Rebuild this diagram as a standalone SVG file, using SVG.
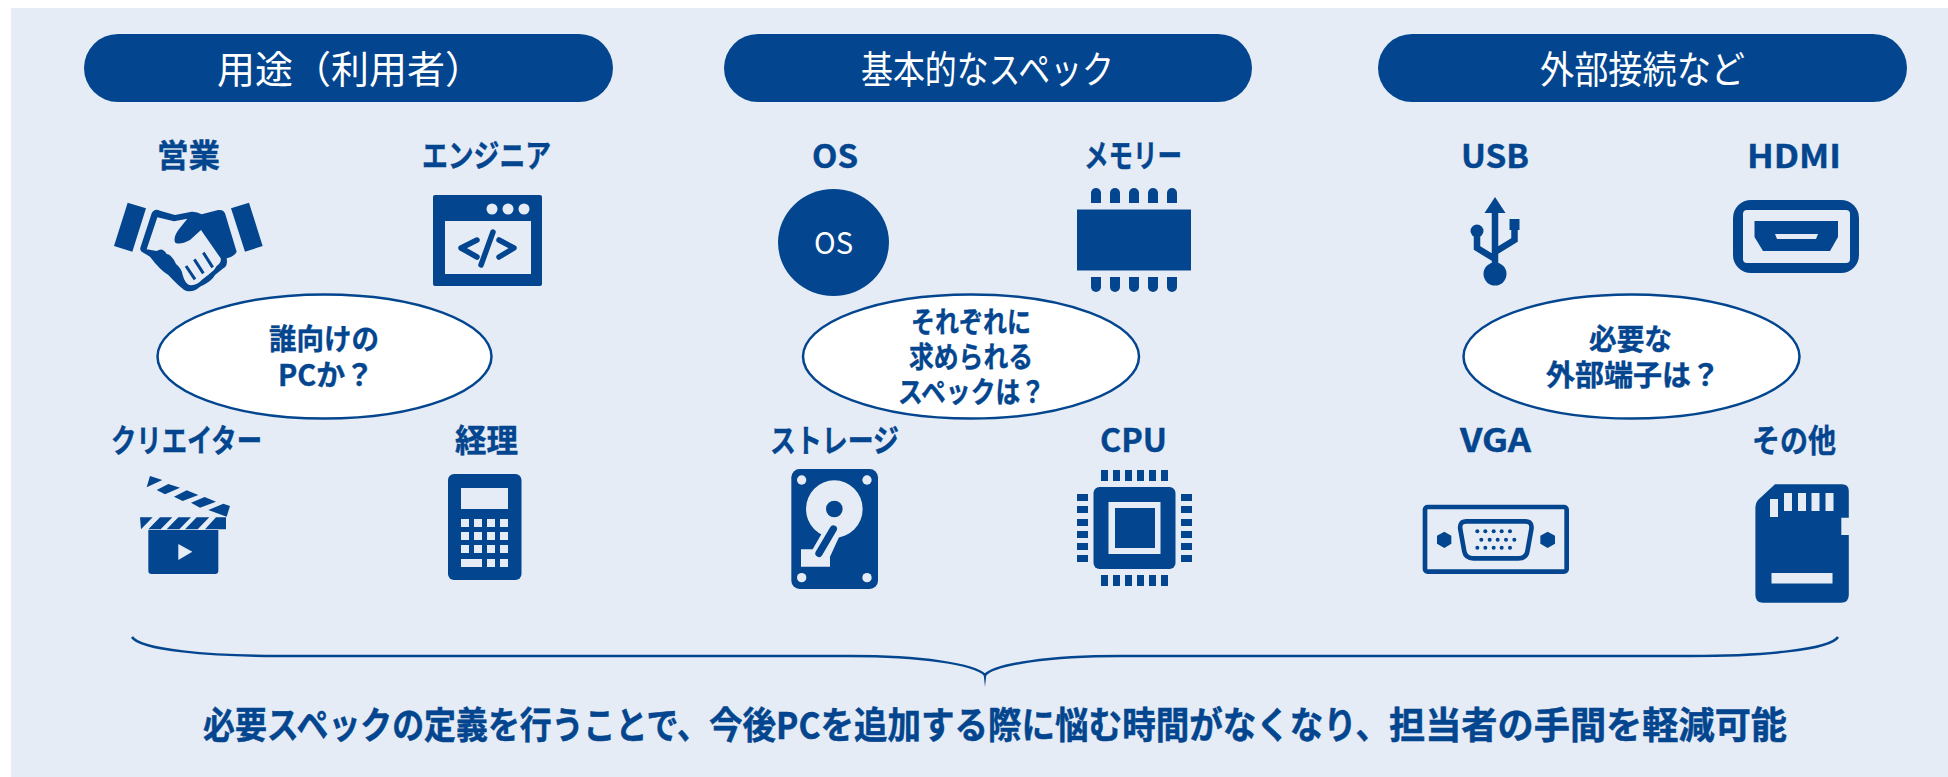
<svg xmlns="http://www.w3.org/2000/svg" width="1948" height="777" viewBox="0 0 1948 777">
<style>
text{font-family:"Noto Sans CJK JP","Noto Sans",sans-serif;fill:#03468F}
.h{font-size:38px;fill:#fff}
.l{font-size:32px;font-weight:700;stroke:#03468F;stroke-width:.4}
.e{font-size:29px;font-weight:700;stroke:#03468F;stroke-width:.4}
.b{font-size:37px;font-weight:700;stroke:#03468F;stroke-width:.5}
.d{fill:#03468F}
.w{fill:#E6ECF5}
.pill{fill:#03468F}
.oval{fill:#fff;stroke:#03468F;stroke-width:2.5}
</style>
<defs>
<path id="pin" class="d" d="M-5,15V5a5,5 0 0 1 10,0V15Z"/>
</defs>
<rect x="0" y="0" width="1948" height="777" fill="#fff"/>
<rect class="w" x="11" y="8" width="1937" height="769"/>

<g id="header-use"><rect class="pill" x="84" y="34" width="529" height="68" rx="34"/><text class="h" x="217" y="83">用途（利用者）</text></g>
<g id="header-spec"><rect class="pill" x="724" y="34" width="528" height="68" rx="34"/><text class="h" x="861" y="83" textLength="253" lengthAdjust="spacingAndGlyphs">基本的なスペック</text></g>
<g id="header-ext"><rect class="pill" x="1378" y="34" width="529" height="68" rx="34"/><text class="h" x="1540" y="83" textLength="205" lengthAdjust="spacingAndGlyphs">外部接続など</text></g>

<g id="sales">
<text class="l" x="157" y="167" textLength="63" lengthAdjust="spacingAndGlyphs">営業</text>
<g transform="translate(100 180) scale(.33333)">
<path class="d" d="M83,68L138,85L97,215L42,198ZM393,85L447,68L488,198L435,215Z"/>
<path class="d" d="M165,90Q172,88 180,92L225,105L275,95Q290,94 305,103L355,90Q370,88 375,100L410,215Q405,228 380,235Q384,258 370,265L345,285Q335,305 300,320Q280,338 258,332Q245,328 205,285Q180,270 150,230L125,215Q118,210 122,200L155,100Q158,92 165,90Z"/>
<path class="w" d="M172,112L222,124L262,116L235,150Q218,175 226,188Q240,196 270,180L303,150L362,235Q365,248 350,258L342,270Q325,285 305,300Q290,318 268,315Q255,310 248,285Q245,265 228,252L222,240Q210,222 200,222Q188,200 170,213L140,208Z"/>
<path d="M258,258L285,298M283,238L310,280M310,218L338,262" fill="none" stroke="#03468F" stroke-width="9"/>
</g>
</g>

<g id="engineer">
<text class="l" x="422" y="167" textLength="129" lengthAdjust="spacingAndGlyphs">エンジニア</text>
<rect class="d" x="433" y="195" width="109" height="91" rx="2"/>
<rect class="w" x="445" y="221" width="86" height="53"/>
<circle class="w" cx="492" cy="209" r="5.5"/><circle class="w" cx="508" cy="209" r="5.5"/><circle class="w" cx="524" cy="209" r="5.5"/>
<path d="M477,240L461,248L477,257M499,240L514,248L499,257M493,232L481,265" fill="none" stroke="#03468F" stroke-width="5.5" stroke-linecap="round" stroke-linejoin="round"/>
</g>

<g id="creator">
<text class="l" x="111" y="452" textLength="151" lengthAdjust="spacingAndGlyphs">クリエイター</text>
<g transform="translate(130 465) scale(.33333)">
<path class="d" d="M55,195H265V317Q265,327 255,327H65Q55,327 55,317Z"/>
<path class="w" d="M145,237L187,260L145,285Z"/>
<path class="d" d="M30,157H68L33,193ZM90,157H127L92,193H55ZM145,157H183L148,193H110ZM200,157H238L203,193H165ZM258,157H288V193H225Z"/>
<path class="d" d="M60,33L97,45L50,67ZM115,57L150,68L105,88L80,75ZM170,76L205,90L158,108L132,95ZM224,96L258,110L210,128L183,113ZM280,116L300,123L290,155L235,135Z"/>
</g>
</g>

<g id="accounting">
<text class="l" x="455" y="452" textLength="63" lengthAdjust="spacingAndGlyphs">経理</text>
<rect class="d" x="448" y="474" width="73.500" height="106" rx="6"/>
<rect class="w" x="461" y="488" width="47" height="21"/>
<g class="w">
<rect x="461" y="519" width="8" height="8"/><rect x="474" y="519" width="8" height="8"/><rect x="487" y="519" width="8" height="8"/><rect x="500" y="519" width="8" height="8"/>
<rect x="461" y="532" width="8" height="8"/><rect x="474" y="532" width="8" height="8"/><rect x="487" y="532" width="8" height="8"/><rect x="500" y="532" width="8" height="8"/>
<rect x="461" y="545" width="8" height="8"/><rect x="474" y="545" width="8" height="8"/><rect x="487" y="545" width="8" height="8"/><rect x="500" y="545" width="8" height="8"/>
<rect x="461" y="559" width="21" height="8"/><rect x="487" y="559" width="8" height="8"/><rect x="500" y="559" width="8" height="8"/>
</g>
</g>

<g id="os">
<text class="l" x="812" y="168" textLength="46" lengthAdjust="spacingAndGlyphs">OS</text>
<ellipse class="d" cx="833.500" cy="242.500" rx="55.500" ry="53.500"/>
<text x="814" y="254" font-size="30" style="fill:#fff" textLength="39" lengthAdjust="spacingAndGlyphs">OS</text>
</g>

<g id="memory">
<text class="l" x="1084" y="167" textLength="98" lengthAdjust="spacingAndGlyphs">メモリー</text>
<rect class="d" x="1077" y="209.500" width="114" height="61"/>
<use href="#pin" x="1096" y="188"/><use href="#pin" x="1115" y="188"/><use href="#pin" x="1134" y="188"/><use href="#pin" x="1153" y="188"/><use href="#pin" x="1172" y="188"/>
<use href="#pin" transform="translate(1096 292) scale(1 -1)"/><use href="#pin" transform="translate(1115 292) scale(1 -1)"/><use href="#pin" transform="translate(1134 292) scale(1 -1)"/><use href="#pin" transform="translate(1153 292) scale(1 -1)"/><use href="#pin" transform="translate(1172 292) scale(1 -1)"/>
</g>

<g id="storage">
<text class="l" x="770" y="452" textLength="129" lengthAdjust="spacingAndGlyphs">ストレージ</text>
<g transform="translate(780 460) scale(.33333)">
<rect class="d" x="34" y="27" width="260" height="360" rx="25"/>
<circle class="w" cx="65" cy="60" r="14"/><circle class="w" cx="261" cy="60" r="14"/><circle class="w" cx="65" cy="353" r="14"/><circle class="w" cx="261" cy="353" r="14"/>
<ellipse class="w" cx="163" cy="147" rx="85" ry="86"/>
<circle class="d" cx="163" cy="147" r="25"/>
<path class="w" d="M63,268H98L140,195L180,225L150,290V320H63Z"/>
<path d="M160,207L117,280" fill="none" stroke="#03468F" stroke-width="22" stroke-linecap="round"/>
</g>
</g>

<g id="cpu">
<text class="l" x="1100" y="452" textLength="67" lengthAdjust="spacingAndGlyphs">CPU</text>
<rect class="d" x="1093.500" y="487" width="82" height="82" rx="6"/>
<rect class="w" x="1108.500" y="502" width="52" height="52"/>
<rect class="d" x="1115" y="508" width="40" height="40"/>
<g class="d">
<rect x="1101" y="470" width="7" height="11"/><rect x="1113" y="470" width="7" height="11"/><rect x="1125" y="470" width="7" height="11"/><rect x="1137" y="470" width="7" height="11"/><rect x="1149" y="470" width="7" height="11"/><rect x="1161" y="470" width="7" height="11"/>
<rect x="1101" y="575" width="7" height="11"/><rect x="1113" y="575" width="7" height="11"/><rect x="1125" y="575" width="7" height="11"/><rect x="1137" y="575" width="7" height="11"/><rect x="1149" y="575" width="7" height="11"/><rect x="1161" y="575" width="7" height="11"/>
<rect x="1077" y="494" width="11" height="7"/><rect x="1077" y="506" width="11" height="7"/><rect x="1077" y="519" width="11" height="7"/><rect x="1077" y="531" width="11" height="7"/><rect x="1077" y="543" width="11" height="7"/><rect x="1077" y="555" width="11" height="7"/>
<rect x="1181" y="494" width="11" height="7"/><rect x="1181" y="506" width="11" height="7"/><rect x="1181" y="519" width="11" height="7"/><rect x="1181" y="531" width="11" height="7"/><rect x="1181" y="543" width="11" height="7"/><rect x="1181" y="555" width="11" height="7"/>
</g>
</g>

<g id="usb">
<text class="l" x="1461" y="168" textLength="68" lengthAdjust="spacingAndGlyphs">USB</text>
<path class="d" d="M1495,197L1505.500,213H1484.500Z"/>
<circle class="d" cx="1495" cy="274" r="11.500"/>
<circle class="d" cx="1477" cy="231" r="6.500"/>
<rect class="d" x="1509.500" y="219" width="10" height="11"/>
<path d="M1495,210V270M1477,232V248L1495,259M1514.500,228V240L1495,252" fill="none" stroke="#03468F" stroke-width="6.500"/>
</g>

<g id="hdmi">
<text class="l" x="1747" y="168" textLength="94" lengthAdjust="spacingAndGlyphs">HDMI</text>
<rect class="d" x="1733" y="200" width="126" height="73" rx="18"/>
<rect class="w" x="1743" y="210" width="107" height="53" rx="4"/>
<path class="d" d="M1754.500,221H1838V237L1830,251H1763L1754.500,237Z"/>
<path class="w" d="M1775,234H1818L1816,239H1777Z"/>
</g>

<g id="vga">
<text class="l" x="1460" y="452" textLength="71" lengthAdjust="spacingAndGlyphs">VGA</text>
<g transform="translate(1410 490) scale(.33333)">
<rect x="45" y="51" width="425" height="194" rx="8" fill="none" stroke="#03468F" stroke-width="14"/>
<path d="M170,94H345Q368,94 364,118L352,185Q348,205 325,205H190Q167,205 163,185L151,118Q147,94 170,94Z" fill="none" stroke="#03468F" stroke-width="14"/>
<path class="d" d="M103,125L124,137V161L103,174L81,161V137ZM413,125L435,137V161L413,174L391,161V137Z"/>
<g class="d">
<circle cx="202" cy="124" r="6"/><circle cx="226" cy="124" r="6"/><circle cx="251" cy="124" r="6"/><circle cx="275" cy="124" r="6"/><circle cx="300" cy="124" r="6"/>
<circle cx="214" cy="149" r="6"/><circle cx="239" cy="149" r="6"/><circle cx="263" cy="149" r="6"/><circle cx="288" cy="149" r="6"/><circle cx="313" cy="149" r="6"/>
<circle cx="202" cy="173" r="6"/><circle cx="226" cy="173" r="6"/><circle cx="251" cy="173" r="6"/><circle cx="275" cy="173" r="6"/><circle cx="300" cy="173" r="6"/>
</g>
</g>
</g>

<g id="other">
<text class="l" x="1752" y="452" textLength="84" lengthAdjust="spacingAndGlyphs">その他</text>
<path class="d" d="M1775,484.300H1842Q1848.800,484.300 1848.800,491V517.700H1841.300V535H1848.800V595Q1848.800,602.700 1841,602.700H1763Q1755.400,602.700 1755.400,595V507Q1755.400,503 1758,500Z"/>
<g class="w">
<rect x="1770" y="499" width="8" height="18"/><rect x="1784" y="493" width="8" height="18"/><rect x="1798" y="493" width="8" height="18"/><rect x="1811.500" y="493" width="8" height="18"/><rect x="1825.500" y="493" width="8" height="18"/>
<rect x="1771.500" y="573" width="61" height="10.500"/>
</g>
</g>

<g id="question-who">
<ellipse class="oval" cx="324.500" cy="356.500" rx="167" ry="62"/>
<text class="e" x="269" y="350" textLength="110" lengthAdjust="spacingAndGlyphs">誰向けの</text>
<text class="e" x="278" y="386" textLength="96" lengthAdjust="spacingAndGlyphs">PCか？</text>
</g>
<g id="question-spec">
<ellipse class="oval" cx="971" cy="356.500" rx="168" ry="62"/>
<text class="e" x="911" y="333" textLength="120" lengthAdjust="spacingAndGlyphs">それぞれに</text>
<text class="e" x="909" y="368" textLength="124" lengthAdjust="spacingAndGlyphs">求められる</text>
<text class="e" x="898" y="403" textLength="147" lengthAdjust="spacingAndGlyphs">スペックは？</text>
</g>
<g id="question-port">
<ellipse class="oval" cx="1631.500" cy="356.500" rx="168" ry="62"/>
<text class="e" x="1589" y="350" textLength="83" lengthAdjust="spacingAndGlyphs">必要な</text>
<text class="e" x="1546" y="386" textLength="174" lengthAdjust="spacingAndGlyphs">外部端子は？</text>
</g>

<g id="connectors">
<path d="M132,637C140,650 210,656 280,656H850C920,656 975,664 985,675C995,664 1050,656 1120,656H1690C1760,656 1830,650 1838,637" fill="none" stroke="#03468F" stroke-width="2.500"/>
<path class="d" d="M983.500,673L985,687L986.500,673Z"/>
</g>

<g id="summary">
<text class="b" y="739"><tspan x="203" textLength="506" lengthAdjust="spacingAndGlyphs">必要スペックの定義を行うことで、</tspan><tspan x="709" textLength="680" lengthAdjust="spacingAndGlyphs">今後PCを追加する際に悩む時間がなくなり、</tspan><tspan x="1389" textLength="398" lengthAdjust="spacingAndGlyphs">担当者の手間を軽減可能</tspan></text>
</g>
</svg>
